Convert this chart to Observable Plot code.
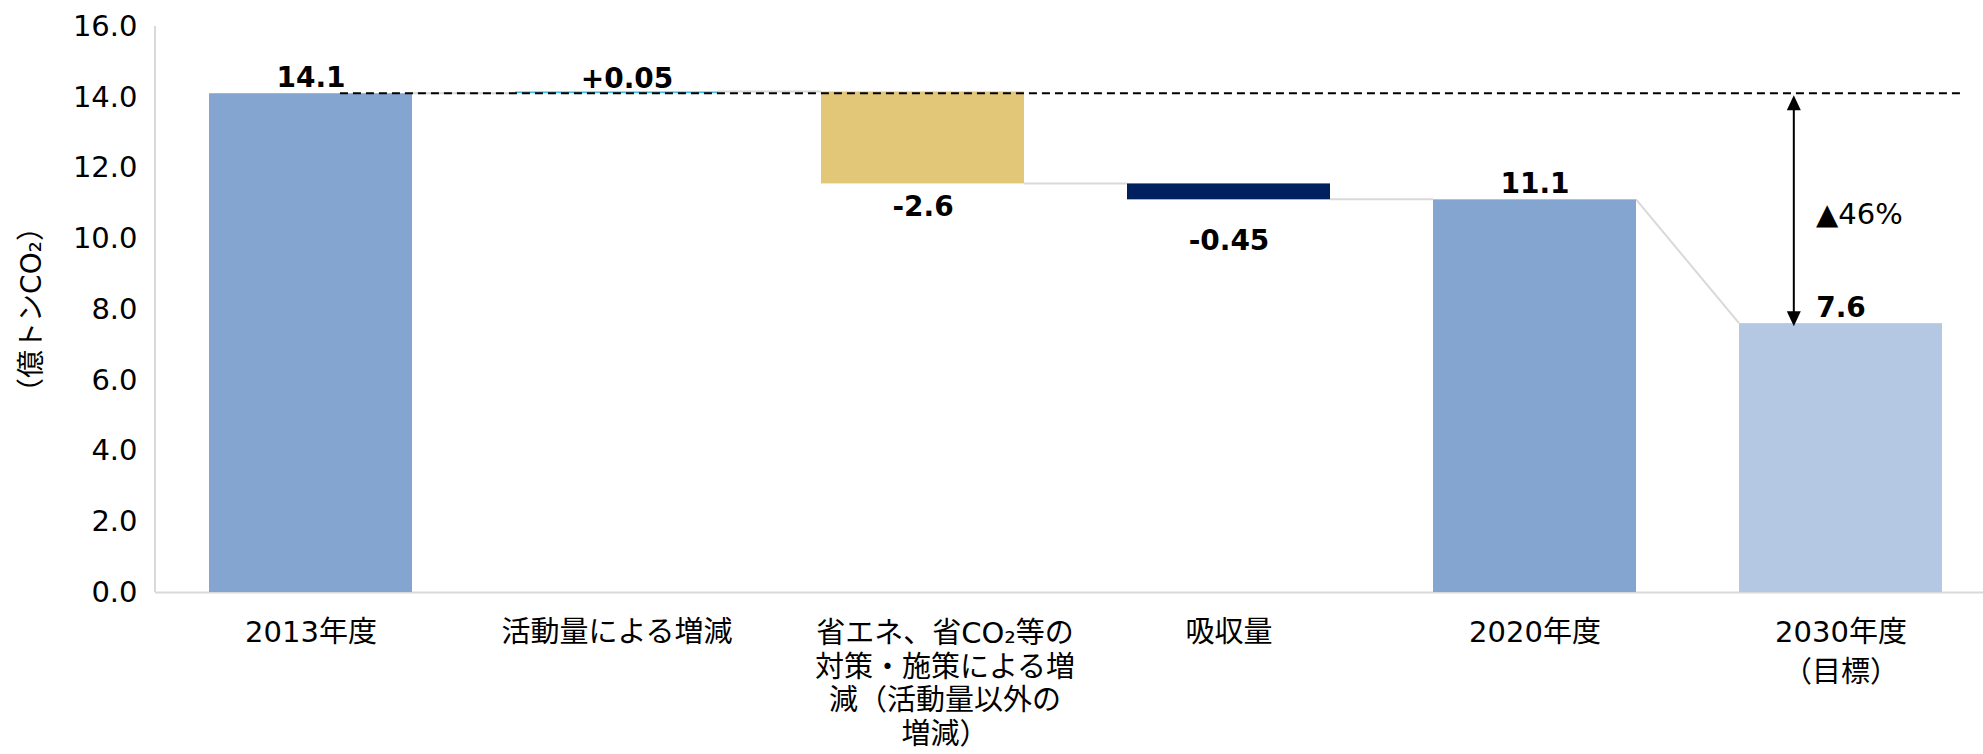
<!DOCTYPE html>
<html>
<head>
<meta charset="utf-8">
<script src="https://cdn.jsdelivr.net/npm/d3@7"></script>
<script src="https://cdn.jsdelivr.net/npm/@observablehq/plot@0.6"></script>
<style>
  html, body { margin: 0; padding: 0; background: #fff; overflow: hidden; }
  #chart svg { display: block; }
</style>
</head>
<body>
<div id="chart"></div>
<script>
// ---- data ----
const categories = [
  "2013年度",
  "活動量による増減",
  "省エネ、省CO₂等の対策・施策による増減（活動量以外の増減）",
  "吸収量",
  "2020年度",
  "2030年度（目標）"
];
const tickLabels = [
  "2013年度",
  "活動量による増減",
  "省エネ、省CO₂等の\n対策・施策による増\n減（活動量以外の\n増減）",
  "吸収量",
  "2020年度",
  "2030年度\n（目標）"
];
const values = [14.1, 0.05, -2.6, -0.45, 11.1, 7.6];
const kinds = ["total", "delta", "delta", "delta", "total", "total"];
const valueLabels = ["14.1", "+0.05", "-2.6", "-0.45", "11.1", "7.6"];
const yTicks = [0, 2, 4, 6, 8, 10, 12, 14, 16];
const yTitle = "（億トンCO₂）";
const reductionLabel = "▲46%";
const baseYear = categories[0];
const targetYear = categories[5];

// ---- styles ----
const barColors = ["#84A5D0", "#44BDE4", "#E3C779", "#012060", "#84A5D0", "#B4C7E3"];
const gridGray = "#D9D9D9";
const font = "'DejaVu Sans', Verdana, 'Noto Sans CJK JP', sans-serif";

// ---- waterfall table ----
let run = 0;
const rows = categories.map((cat, i) => {
  let y1, y2, entry;
  if (kinds[i] === "total") {
    y1 = 0; y2 = values[i]; entry = values[i]; run = values[i];
  } else {
    y1 = run; y2 = run + values[i]; entry = run; run = y2;
  }
  return {cat, value: values[i], label: valueLabels[i], y1, y2, entry, exit: run,
          top: Math.max(y1, y2), bottom: Math.min(y1, y2)};
});
const baseValue = rows[0].value;
const targetValue = rows[5].value;

// connectors + axis line, drawn with the plot's own scales
function connectors(index, {x, y}) {
  const bw = x.bandwidth();
  const g = d3.create("svg:g").attr("fill", "none").attr("stroke", gridGray).attr("stroke-width", 2);
  g.append("line")
    .attr("x1", x.range()[0]).attr("x2", x.range()[0])
    .attr("y1", y(yTicks[yTicks.length - 1])).attr("y2", y(0));
  for (let i = 0; i < rows.length - 1; i++) {
    const a = rows[i], b = rows[i + 1];
    g.append("line")
      .attr("x1", x(a.cat) + bw).attr("y1", y(a.exit))
      .attr("x2", x(b.cat)).attr("y2", y(b.entry));
  }
  return g.node();
}

// dashed reference line and double-headed arrow
function reference(index, {x, y}) {
  const bw = x.bandwidth();
  const g = d3.create("svg:g");
  const yb = y(baseValue), yt = y(targetValue);
  g.append("line")
    .attr("x1", x(baseYear) + bw * 0.645).attr("x2", x(targetYear) + bw + 18)
    .attr("y1", yb).attr("y2", yb)
    .attr("stroke", "#000").attr("stroke-width", 2).attr("stroke-dasharray", "8,5");
  const ax = x(targetYear) + bw * 0.27;
  const hw = 7, hl = 15;
  g.append("line")
    .attr("x1", ax).attr("x2", ax)
    .attr("y1", yb + 2 + hl - 1).attr("y2", yt + 3 - hl + 1)
    .attr("stroke", "#000").attr("stroke-width", 2);
  g.append("path")
    .attr("d", `M${ax},${yb + 2}L${ax - hw},${yb + 2 + hl}L${ax + hw},${yb + 2 + hl}Z`)
    .attr("fill", "#000");
  g.append("path")
    .attr("d", `M${ax},${yt + 3}L${ax - hw},${yt + 3 - hl}L${ax + hw},${yt + 3 - hl}Z`)
    .attr("fill", "#000");
  return g.node();
}

const fmtTick = d => tickLabels[categories.indexOf(d)];

const chart = Plot.plot({
  width: 1983,
  height: 754,
  marginTop: 26,
  marginBottom: 162,
  marginLeft: 155,
  marginRight: 0,
  style: {fontFamily: font, fontSize: "29px", color: "#000", background: "#fff"},
  x: {domain: categories, range: [155, 1996], paddingInner: 0.335, paddingOuter: 0.1675, axis: null},
  y: {domain: [0, 16], axis: null},
  color: {domain: categories, range: barColors},
  marks: [
    connectors,
    Plot.ruleY([0], {stroke: gridGray, strokeWidth: 2}),
    Plot.barY(rows, {x: "cat", y1: "y1", y2: "y2", fill: "cat"}),
    reference,
    Plot.axisY({ticks: yTicks, tickFormat: d => d.toFixed(1), tickSize: 0, tickPadding: 18,
                fontSize: 29, fill: "#000", label: null}),
    Plot.axisX({ticks: categories.filter((c, i) => i !== 2), tickFormat: fmtTick, tickSize: 0,
                tickPadding: 21, fontSize: 29, lineHeight: 1.38, fill: "#000", label: null}),
    Plot.axisX({ticks: [categories[2]], tickFormat: fmtTick, tickSize: 0,
                tickPadding: 21, fontSize: 29, lineHeight: 1.17, dx: 22, dy: 5, fill: "#000", label: null}),
    Plot.text([yTitle], {frameAnchor: "left", rotate: -90, dx: -123, fontSize: 28,
                         textAnchor: "middle", lineAnchor: "middle", fill: "#000"}),
    // value labels
    Plot.text(rows.filter(d => kinds[categories.indexOf(d.cat)] === "total"),
      {x: "cat", y: "top", text: "label", lineAnchor: "bottom", dy: -7, fontSize: 28, fontWeight: "bold", fill: "#000"}),
    Plot.text(rows.filter(d => kinds[categories.indexOf(d.cat)] === "delta" && d.value > 0),
      {x: "cat", y: "top", text: "label", lineAnchor: "bottom", dy: -4, dx: 10, fontSize: 28, fontWeight: "bold", fill: "#000"}),
    Plot.text(rows.filter(d => d.cat === categories[2]),
      {x: "cat", y: "bottom", text: "label", lineAnchor: "top", dy: 12, fontSize: 28, fontWeight: "bold", fill: "#000"}),
    Plot.text(rows.filter(d => d.cat === categories[3]),
      {x: "cat", y: "bottom", text: "label", lineAnchor: "top", dy: 30, fontSize: 28, fontWeight: "bold", fill: "#000"}),
    Plot.text([{cat: targetYear, y: (baseValue + targetValue) / 2, t: reductionLabel}],
      {x: "cat", y: "y", text: "t", textAnchor: "start", dx: -25, dy: 6, fontSize: 29, fill: "#000"})
  ]
});
document.getElementById("chart").append(chart);
</script>
</body>
</html>
